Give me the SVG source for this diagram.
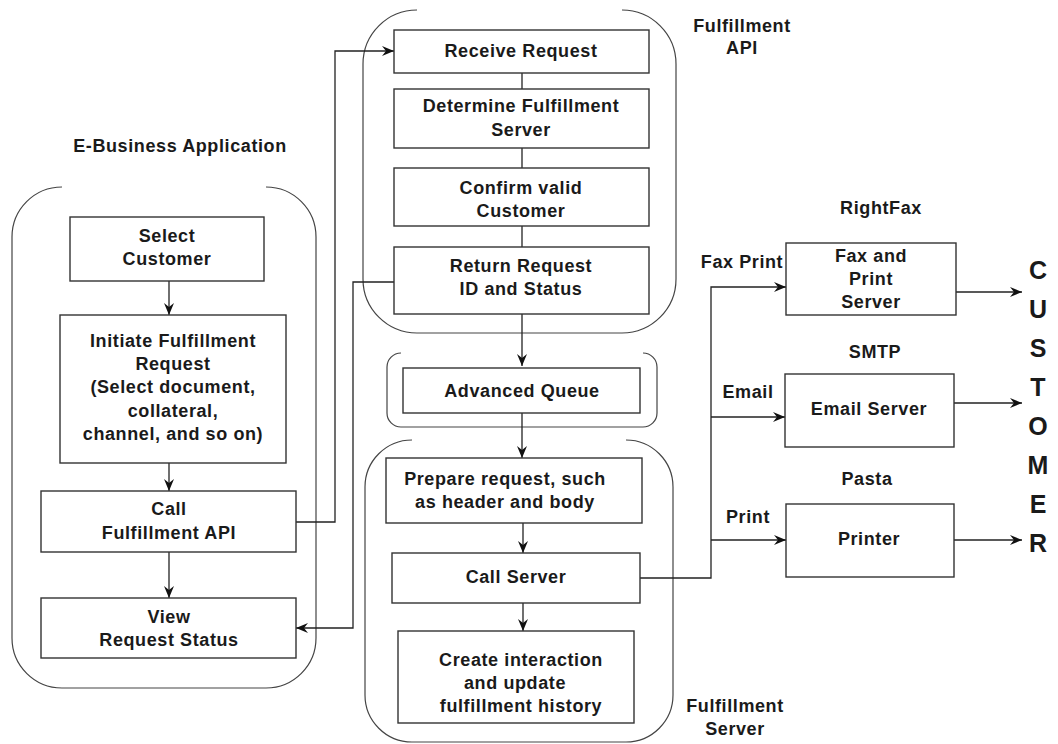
<svg xmlns="http://www.w3.org/2000/svg" width="1058" height="744" viewBox="0 0 1058 744">
<defs>
<style>
text{font-family:"Liberation Sans",Arial,Helvetica,sans-serif;font-weight:bold;font-size:18px;letter-spacing:0.6px;fill:#1a1a1a}
.c{text-anchor:middle}
.big{font-size:25px;letter-spacing:0}
.box{fill:#fff;stroke:#333;stroke-width:1.4}
.ctr{fill:none;stroke:#444;stroke-width:1.2}
.ln{fill:none;stroke:#222;stroke-width:1.3}
.ar{marker-end:url(#ah)}
</style>
<marker id="ah" viewBox="0 0 12 10" markerWidth="12" markerHeight="10" refX="12" refY="5" orient="auto" markerUnits="userSpaceOnUse">
<path d="M0,0 L12,5 L0,10 L4,5 z" fill="#111"/>
</marker>
</defs>
<rect width="1058" height="744" fill="#fff"/>

<g id="containers">
<path class="ctr" d="M62 187 A50 50 0 0 0 12 237 L12 638 A50 50 0 0 0 62 688 L266 688 A50 50 0 0 0 316 638 L316 237 A50 50 0 0 0 266 187"/>
<path class="ctr" d="M417 10 A54 54 0 0 0 363 64 L363 279 A54 54 0 0 0 417 333 L622 333 A54 54 0 0 0 676 279 L676 64 A54 54 0 0 0 622 10"/>
<path class="ctr" d="M401 353 A14 14 0 0 0 387 367 L387 413 A14 14 0 0 0 401 427 L643 427 A14 14 0 0 0 657 413 L657 367 A14 14 0 0 0 643 353"/>
<path class="ctr" d="M412 440 A47 47 0 0 0 365 487 L365 695 A47 47 0 0 0 412 742 L626 742 A47 47 0 0 0 673 695 L673 487 A47 47 0 0 0 626 440"/>
</g>

<g id="labels">
<text class="c" x="180" y="152">E-Business Application</text>
<text class="c" x="742" y="32">Fulfillment</text>
<text class="c" x="742" y="54">API</text>
<text class="c" x="735" y="712">Fulfillment</text>
<text class="c" x="735" y="735">Server</text>
<text class="c" x="881" y="214">RightFax</text>
<text class="c" x="875" y="358">SMTP</text>
<text class="c" x="867" y="485">Pasta</text>
<text class="c" x="742" y="268">Fax Print</text>
<text class="c" x="748" y="398">Email</text>
<text class="c" x="748" y="523">Print</text>
</g>

<g id="customer">
<text class="c big" x="1038" y="279">C</text>
<text class="c big" x="1038" y="318">U</text>
<text class="c big" x="1038" y="357">S</text>
<text class="c big" x="1038" y="396">T</text>
<text class="c big" x="1038" y="435">O</text>
<text class="c big" x="1038" y="474">M</text>
<text class="c big" x="1038" y="513">E</text>
<text class="c big" x="1038" y="552">R</text>
</g>

<g id="connectors">
<path class="ln ar" d="M169 281 V315"/>
<path class="ln ar" d="M169 463 V491"/>
<path class="ln ar" d="M169 552 V598"/>
<path class="ln ar" d="M296 522 H335 V51 H394"/>
<path class="ln ar" d="M394 282 H353 V628 H296"/>
<path class="ln" d="M522 73 V89"/>
<path class="ln" d="M522 148 V168"/>
<path class="ln" d="M522 226 V247"/>
<path class="ln ar" d="M522 314 V366"/>
<path class="ln ar" d="M522 413 V458"/>
<path class="ln ar" d="M523 523 V553"/>
<path class="ln ar" d="M523 603 V631"/>
<path class="ln ar" d="M640 578 H711 V287 H786"/>
<path class="ln ar" d="M711 417 H785"/>
<path class="ln ar" d="M711 540 H786"/>
<path class="ln ar" d="M956 292 H1022"/>
<path class="ln ar" d="M954 403 H1022"/>
<path class="ln ar" d="M954 540 H1022"/>
</g>

<g id="select-customer">
<rect class="box" x="70" y="217" width="194" height="64"/>
<text class="c" x="167" y="242">Select</text>
<text class="c" x="167" y="265">Customer</text>
</g>
<g id="initiate-request">
<rect class="box" x="60" y="315" width="226" height="148"/>
<text class="c" x="173" y="347">Initiate Fulfillment</text>
<text class="c" x="173" y="370">Request</text>
<text class="c" x="173" y="393">(Select document,</text>
<text class="c" x="173" y="417">collateral,</text>
<text class="c" x="173" y="440">channel, and so on)</text>
</g>
<g id="call-api">
<rect class="box" x="41" y="491" width="255" height="61"/>
<text class="c" x="169" y="515">Call</text>
<text class="c" x="169" y="539">Fulfillment API</text>
</g>
<g id="view-status">
<rect class="box" x="41" y="598" width="255" height="60"/>
<text class="c" x="169" y="623">View</text>
<text class="c" x="169" y="646">Request Status</text>
</g>

<g id="receive-request">
<rect class="box" x="394" y="30" width="255" height="43"/>
<text class="c" x="521" y="57">Receive Request</text>
</g>
<g id="determine-server">
<rect class="box" x="394" y="89" width="255" height="59"/>
<text class="c" x="521" y="112">Determine Fulfillment</text>
<text class="c" x="521" y="136">Server</text>
</g>
<g id="confirm-customer">
<rect class="box" x="394" y="168" width="255" height="58"/>
<text class="c" x="521" y="194">Confirm valid</text>
<text class="c" x="521" y="217">Customer</text>
</g>
<g id="return-request">
<rect class="box" x="394" y="247" width="255" height="67"/>
<text class="c" x="521" y="272">Return Request</text>
<text class="c" x="521" y="295">ID and Status</text>
</g>

<g id="advanced-queue">
<rect class="box" x="403" y="368" width="237" height="45"/>
<text class="c" x="522" y="397">Advanced Queue</text>
</g>

<g id="prepare-request">
<rect class="box" x="386" y="458" width="256" height="65"/>
<text class="c" x="505" y="485">Prepare request, such</text>
<text class="c" x="505" y="508">as header and body</text>
</g>
<g id="call-server">
<rect class="box" x="392" y="553" width="248" height="50"/>
<text class="c" x="516" y="583">Call Server</text>
</g>
<g id="create-interaction">
<rect class="box" x="398" y="631" width="236" height="92"/>
<text class="c" x="521" y="666">Create interaction</text>
<text class="c" x="515" y="689">and update</text>
<text class="c" x="521" y="712">fulfillment history</text>
</g>

<g id="fax-server">
<rect class="box" x="786" y="243" width="170" height="72"/>
<text class="c" x="871" y="262">Fax and</text>
<text class="c" x="871" y="285">Print</text>
<text class="c" x="871" y="308">Server</text>
</g>
<g id="email-server">
<rect class="box" x="785" y="374" width="169" height="73"/>
<text class="c" x="869" y="415">Email Server</text>
</g>
<g id="printer">
<rect class="box" x="786" y="504" width="168" height="73"/>
<text class="c" x="869" y="545">Printer</text>
</g>
</svg>
